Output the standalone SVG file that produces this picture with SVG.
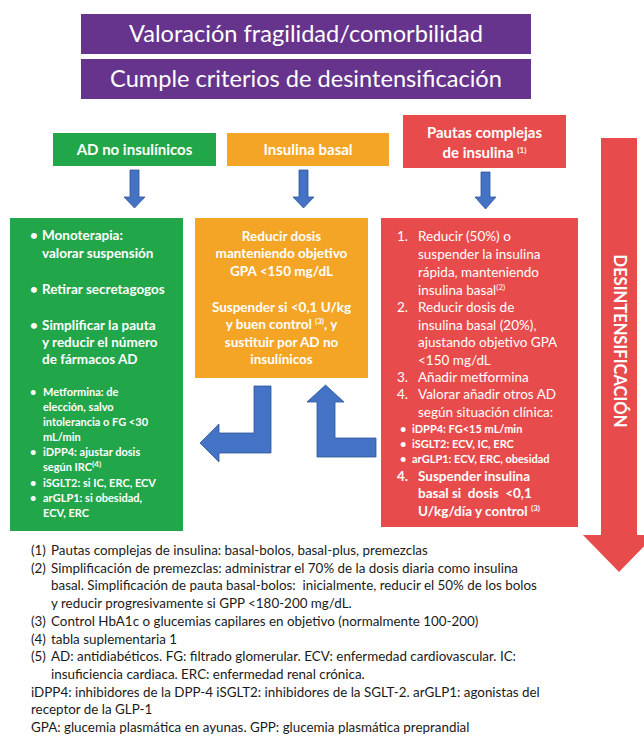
<svg xmlns="http://www.w3.org/2000/svg" width="644" height="738" viewBox="0 0 644 738">
<defs>
<style>
text{font-family:Lato,"Open Sans","Liberation Sans",sans-serif;fill:#fff}
.p{font-size:23.6px}
.h{font-size:15px;font-weight:700}
.b{font-size:13.5px;font-weight:700}
.s{font-size:11px;font-weight:700}
.r{font-size:13.5px;font-weight:400}
.f text{font-size:13.4px;fill:#1a1a1a}
.c{text-anchor:middle}
.sup{font-size:8px}
.arr{fill:#4472C4;stroke:#2F5597;stroke-width:0.8}
</style>
</defs>
<rect width="644" height="738" fill="#fff"/>

<g id="valoracion">
<rect x="81" y="14" width="450" height="40" fill="#66348C"/>
<text class="p c" x="306" y="42">Valoración fragilidad/comorbilidad</text>
</g>
<g id="cumple">
<rect x="81" y="59" width="450" height="40" fill="#66348C"/>
<text class="p c" x="306" y="87">Cumple criterios de desintensificación</text>
</g>

<g id="ad-header">
<rect x="53" y="133" width="163" height="33" fill="#22A64A"/>
<text class="h c" x="134.5" y="154.5">AD no insulínicos</text>
</g>
<g id="basal-header">
<rect x="227" y="133" width="162" height="33" fill="#F5A526"/>
<text class="h c" x="308" y="154.5">Insulina basal</text>
</g>
<g id="complejas-header">
<rect x="403" y="115" width="163" height="53" fill="#E84B4B"/>
<text class="h c" x="484.5" y="138">Pautas complejas</text>
<text class="h c" x="484.5" y="158">de insulina <tspan class="sup" dy="-5">(1)</tspan></text>
</g>

<g id="ad-box">
<rect x="10" y="218" width="173" height="313" fill="#22A64A"/>
<g class="b">
<text x="30" y="240">•</text><text x="42" y="240">Monoterapia:</text>
<text x="42" y="258">valorar suspensión</text>
<text x="30" y="294">•</text><text x="42" y="294">Retirar secretagogos</text>
<text x="30" y="330">•</text><text x="42" y="330">Simplificar la pauta</text>
<text x="42" y="347">y reducir el número</text>
<text x="42" y="364">de fármacos AD</text>
</g>
<g class="s">
<text x="30" y="396">•</text><text x="43" y="396">Metformina: de</text>
<text x="43" y="411">elección, salvo</text>
<text x="43" y="426">intolerancia o FG &lt;30</text>
<text x="43" y="441">mL/min</text>
<text x="30" y="456">•</text><text x="43" y="456">iDPP4: ajustar dosis</text>
<text x="43" y="471">según IRC<tspan class="sup" dy="-4">(4)</tspan></text>
<text x="30" y="487">•</text><text x="43" y="487">iSGLT2: si IC, ERC, ECV</text>
<text x="30" y="502">•</text><text x="43" y="502">arGLP1: si obesidad,</text>
<text x="43" y="517">ECV, ERC</text>
</g>
</g>

<g id="basal-box">
<rect x="195" y="218" width="173" height="160" fill="#F5A526"/>
<g class="b c">
<text x="281.5" y="241">Reducir dosis</text>
<text x="281.5" y="258">manteniendo objetivo</text>
<text x="281.5" y="276">GPA &lt;150 mg/dL</text>
<text x="281.5" y="312">Suspender si &lt;0,1 U/kg</text>
<text x="281.5" y="329">y buen control <tspan class="sup" dy="-5">(3)</tspan><tspan dy="5">, y</tspan></text>
<text x="281.5" y="347">sustituir por AD no</text>
<text x="281.5" y="364">insulínicos</text>
</g>
</g>

<g id="complejas-box">
<rect x="381" y="218" width="197" height="309" fill="#E84B4B"/>
<g class="r">
<text x="397" y="241">1.</text><text x="418" y="241">Reducir (50%) o</text>
<text x="418" y="259">suspender la insulina</text>
<text x="418" y="277">rápida, manteniendo</text>
<text x="418" y="295">insulina basal<tspan class="sup" dy="-5">(2)</tspan></text>
<text x="397" y="312">2.</text><text x="418" y="312">Reducir dosis de</text>
<text x="418" y="330">insulina basal (20%),</text>
<text x="418" y="347">ajustando objetivo GPA</text>
<text x="418" y="365">&lt;150 mg/dL</text>
<text x="397" y="382">3.</text><text x="418" y="382">Añadir metformina</text>
<text x="397" y="399">4.</text><text x="418" y="399">Valorar añadir otros AD</text>
<text x="418" y="417">según situación clínica:</text>
</g>
<g class="s">
<text x="400" y="433">•</text><text x="412" y="433">iDPP4: FG&lt;15 mL/min</text>
<text x="400" y="448">•</text><text x="412" y="448">iSGLT2: ECV, IC, ERC</text>
<text x="400" y="463">•</text><text x="412" y="463">arGLP1: ECV, ERC, obesidad</text>
</g>
<g class="b">
<text x="397" y="481">4.</text><text x="418" y="481">Suspender insulina</text>
<text x="418" y="498" xml:space="preserve">basal si  dosis  &lt;0,1</text>
<text x="418" y="516">U/kg/día y control <tspan class="sup" dy="-5">(3)</tspan></text>
</g>
</g>

<g id="desintensificacion">
<polygon points="601,138 637,138 637,535 655,535 619,572 583,535 601,535" fill="#E84B4B"/>
<text class="c" transform="translate(619,341) rotate(90)" x="0" y="5.5" font-size="16.5" font-weight="700">DESINTENSIFICACIÓN</text>
</g>

<g id="connectors">
<polygon class="arr" points="130,170 139,170 139,197 145,197 134.5,208 124,197 130,197"/>
<polygon class="arr" points="299,170 308,170 308,197 314,197 303.5,208 293,197 299,197"/>
<polygon class="arr" points="481,172 490,172 490,197 496,197 485.5,209 475,197 481,197"/>
<polygon class="arr" points="254,386 271,386 271,453 219,453 219,462 200,443 219,424 219,433 254,433"/>
<polygon class="arr" points="376,438 376,457 317,457 317,402 307,402 325.5,385 344,402 335,402 335,438"/>
</g>

<g id="notas" class="f">
<text x="31" y="555">(1)</text><text x="51" y="555">Pautas complejas de insulina: basal-bolos, basal-plus, premezclas</text>
<text x="31" y="573">(2)</text><text x="51" y="573">Simplificación de premezclas: administrar el 70% de la dosis diaria como insulina</text>
<text x="51" y="590" xml:space="preserve">basal. Simplificación de pauta basal-bolos:  inicialmente, reducir el 50% de los bolos</text>
<text x="51" y="608">y reducir progresivamente si GPP &lt;180-200 mg/dL.</text>
<text x="31" y="626">(3)</text><text x="51" y="626">Control HbA1c o glucemias capilares en objetivo (normalmente 100-200)</text>
<text x="31" y="644">(4)</text><text x="51" y="644">tabla suplementaria 1</text>
<text x="31" y="661">(5)</text><text x="51" y="661">AD: antidiabéticos. FG: filtrado glomerular. ECV: enfermedad cardiovascular. IC:</text>
<text x="51" y="679">insuficiencia cardiaca. ERC: enfermedad renal crónica.</text>
<text x="31" y="697">iDPP4: inhibidores de la DPP-4 iSGLT2: inhibidores de la SGLT-2. arGLP1: agonistas del</text>
<text x="31" y="714">receptor de la GLP-1</text>
<text x="31" y="732">GPA: glucemia plasmática en ayunas. GPP: glucemia plasmática preprandial</text>
</g>
</svg>
